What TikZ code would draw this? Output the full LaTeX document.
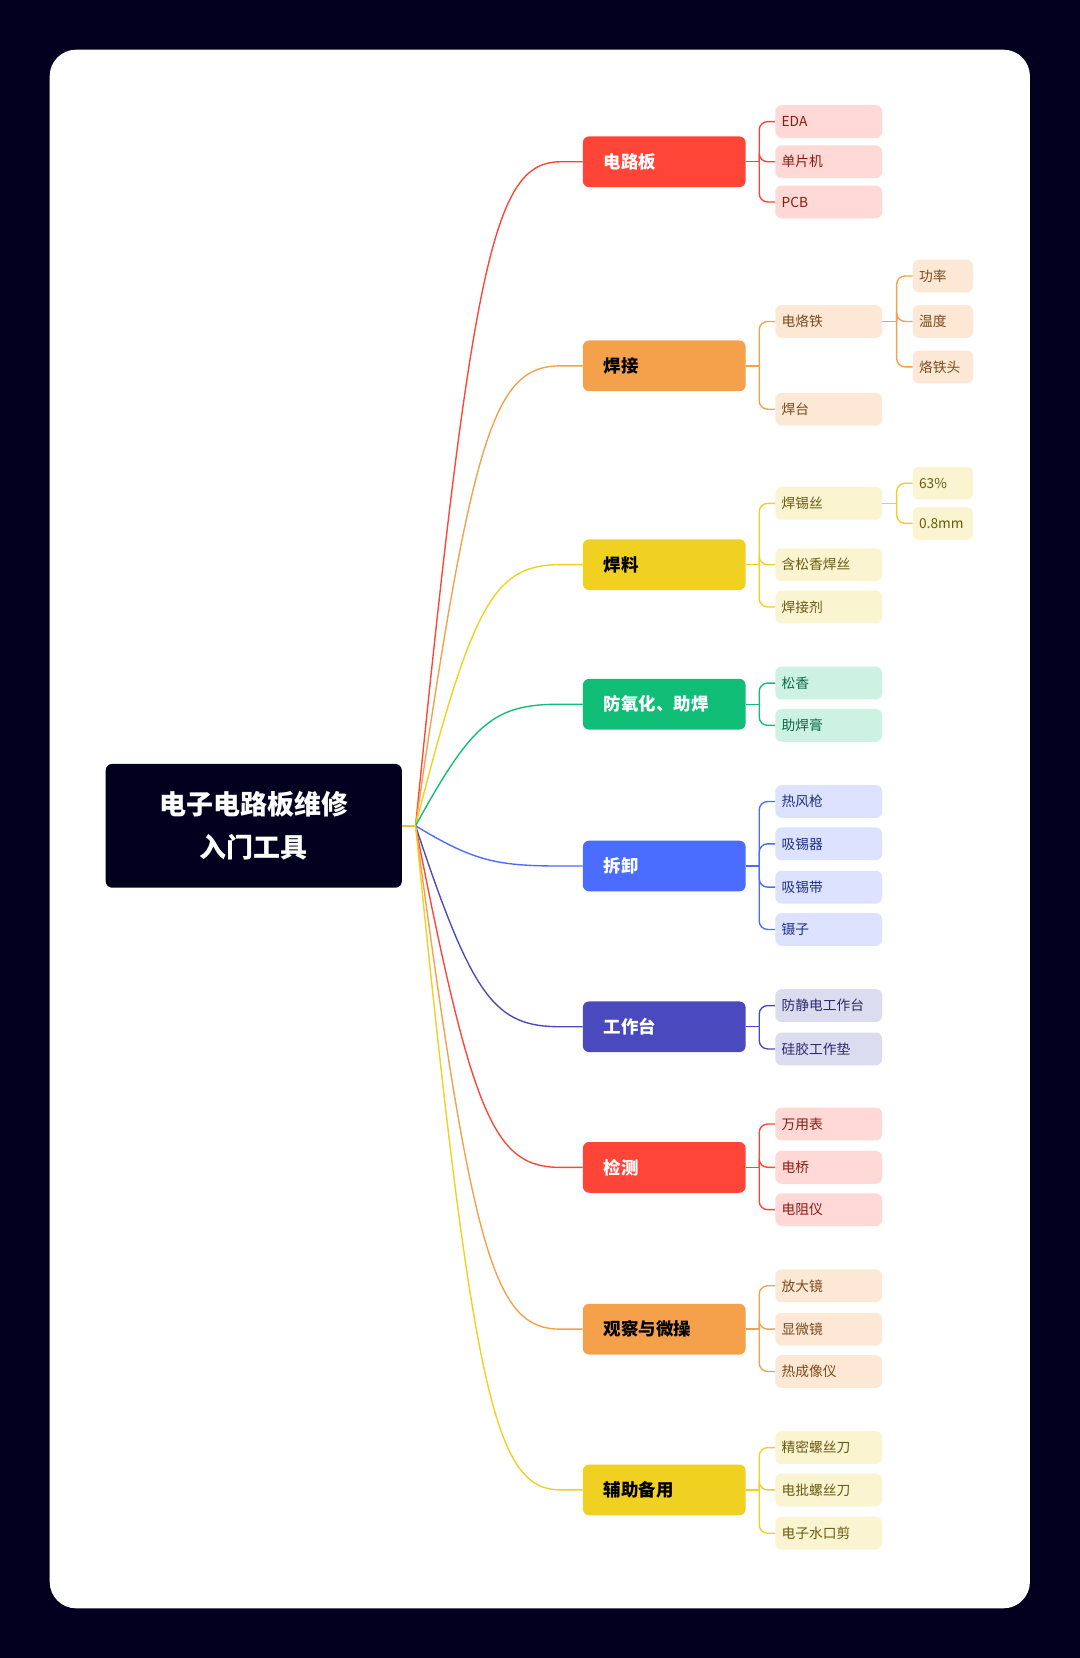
\documentclass[tikz,border=0pt]{standalone}
\usepackage{fontspec}
\setmainfont{Noto Sans CJK SC}
\definecolor{bgd}{HTML}{03001F}
\definecolor{cR}{HTML}{FF4538}\definecolor{lR}{HTML}{FFD9D6}\definecolor{tR}{HTML}{8B1A12}
\definecolor{cO}{HTML}{F5A04A}\definecolor{lO}{HTML}{FDE8D6}\definecolor{tO}{HTML}{7A4A1A}
\definecolor{cY}{HTML}{F0D020}\definecolor{lY}{HTML}{FBF4D0}\definecolor{tY}{HTML}{6A5A10}
\definecolor{cG}{HTML}{10BE78}\definecolor{lG}{HTML}{CDF2E4}\definecolor{tG}{HTML}{0A6A44}
\definecolor{cB}{HTML}{4A6CFF}\definecolor{lB}{HTML}{DCE2FF}\definecolor{tB}{HTML}{1E2E8A}
\definecolor{cI}{HTML}{4A4ABE}\definecolor{lI}{HTML}{DCDCF0}\definecolor{tI}{HTML}{2A2A70}
\tikzset{
 br/.style={draw=none,fill=#1,rounded corners=6pt,minimum width=154pt,minimum height=48pt,
   text width=114pt,align=left,inner xsep=20pt,font=\fontsize{16.5}{18}\selectfont\bfseries,anchor=west},
 lf/.style={fill=#1,rounded corners=6pt,minimum width=101pt,minimum height=31pt,
   text width=89pt,align=left,inner xsep=6pt,inner ysep=0pt,font=\fontsize{13}{14}\selectfont,anchor=west},
 sl/.style={fill=#1,rounded corners=6pt,minimum width=57pt,minimum height=31pt,
   text width=45pt,align=left,inner xsep=6pt,inner ysep=0pt,font=\fontsize{13}{14}\selectfont,anchor=west},
 ln/.style={draw=#1,line width=1.3pt},
}
\newcommand\mkbranch[5]{%
 \node[br=#3,text=#4] (#1) at (551,#2) {#5};
 \draw[ln=#3] (root.east) -- (rc) .. controls (447,{780+0.86*(#2-780)}) and (468,#2) .. (530,#2) -- (#1.west);
 \coordinate (#1j) at (718,#2);
 \draw[ln=#3] (#1.east) -- (#1j);}
\newcommand\mkleaf[6]{\node[lf=#5,text=#6] (#2) at (733,#3) {#4};}
\newcommand\conn[4]{\draw[ln=#1,rounded corners=8pt] (#2) |- (#3.west);}
\begin{document}
\begin{tikzpicture}[x=1pt,y=-1pt]
\fill[bgd] (0,0) rectangle (1021,1568);
\fill[white,rounded corners=25pt] (47,47) rectangle (974,1521);
\node[fill=bgd,rounded corners=6pt,minimum width=280pt,minimum height=117pt,text=white,
 align=center,font=\fontsize{25.5}{40}\selectfont\bfseries] (root) at (240,781) {电子电路板维修\\入门工具};
\coordinate (rc) at (393,781);
\mkbranch{b1}{153}{cR}{white}{电路板}
\mkbranch{b2}{346}{cO}{black}{焊接}
\mkbranch{b3}{534}{cY}{black}{焊料}
\mkbranch{b4}{666}{cG}{white}{防氧化、助焊}
\mkbranch{b5}{819}{cB}{white}{拆卸}
\mkbranch{b6}{971}{cI}{white}{工作台}
\mkbranch{b7}{1104}{cR}{white}{检测}
\mkbranch{b8}{1257}{cO}{black}{观察与微操}
\mkbranch{b9}{1409}{cY}{black}{辅助备用}
\mkleaf{b1}{l11}{115}{EDA}{lR}{tR}\mkleaf{b1}{l12}{153}{单片机}{lR}{tR}\mkleaf{b1}{l13}{191}{PCB}{lR}{tR}
\foreach \l in {l11,l12,l13} \conn{cR}{b1j}{\l}{};
\mkleaf{b2}{l21}{304}{电烙铁}{lO}{tO}\mkleaf{b2}{l22}{387}{焊台}{lO}{tO}
\foreach \l in {l21,l22} \conn{cO}{b2j}{\l}{};
\mkleaf{b3}{l31}{476}{焊锡丝}{lY}{tY}\mkleaf{b3}{l32}{534}{含松香焊丝}{lY}{tY}\mkleaf{b3}{l33}{574}{焊接剂}{lY}{tY}
\foreach \l in {l31,l32,l33} \conn{cY}{b3j}{\l}{};
\mkleaf{b4}{l41}{646}{松香}{lG}{tG}\mkleaf{b4}{l42}{686}{助焊膏}{lG}{tG}
\foreach \l in {l41,l42} \conn{cG}{b4j}{\l}{};
\mkleaf{b5}{l51}{758}{热风枪}{lB}{tB}\mkleaf{b5}{l52}{798}{吸锡器}{lB}{tB}\mkleaf{b5}{l53}{839}{吸锡带}{lB}{tB}\mkleaf{b5}{l54}{879}{镊子}{lB}{tB}
\foreach \l in {l51,l52,l53,l54} \conn{cB}{b5j}{\l}{};
\mkleaf{b6}{l61}{951}{防静电工作台}{lI}{tI}\mkleaf{b6}{l62}{992}{硅胶工作垫}{lI}{tI}
\foreach \l in {l61,l62} \conn{cI}{b6j}{\l}{};
\mkleaf{b7}{l71}{1063}{万用表}{lR}{tR}\mkleaf{b7}{l72}{1104}{电桥}{lR}{tR}\mkleaf{b7}{l73}{1144}{电阻仪}{lR}{tR}
\foreach \l in {l71,l72,l73} \conn{cR}{b7j}{\l}{};
\mkleaf{b8}{l81}{1216}{放大镜}{lO}{tO}\mkleaf{b8}{l82}{1257}{显微镜}{lO}{tO}\mkleaf{b8}{l83}{1297}{热成像仪}{lO}{tO}
\foreach \l in {l81,l82,l83} \conn{cO}{b8j}{\l}{};
\mkleaf{b9}{l91}{1369}{精密螺丝刀}{lY}{tY}\mkleaf{b9}{l92}{1409}{电批螺丝刀}{lY}{tY}\mkleaf{b9}{l93}{1450}{电子水口剪}{lY}{tY}
\foreach \l in {l91,l92,l93} \conn{cY}{b9j}{\l}{};
\node[sl=lO,text=tO] (s1) at (863,261) {功率};
\node[sl=lO,text=tO] (s2) at (863,304) {温度};
\node[sl=lO,text=tO] (s3) at (863,347) {烙铁头};
\coordinate (j2) at (848,304);
\draw[ln=cO] (l21.east) -- (j2);
\foreach \l in {s1,s2,s3} \conn{cO}{j2}{\l}{};
\node[sl=lY,text=tY] (s4) at (863,457) {63\%};
\node[sl=lY,text=tY] (s5) at (863,495) {0.8mm};
\coordinate (j3) at (848,476);
\draw[ln=cY] (l31.east) -- (j3);
\foreach \l in {s4,s5} \conn{cY}{j3}{\l}{};
\end{tikzpicture}
\end{document}
